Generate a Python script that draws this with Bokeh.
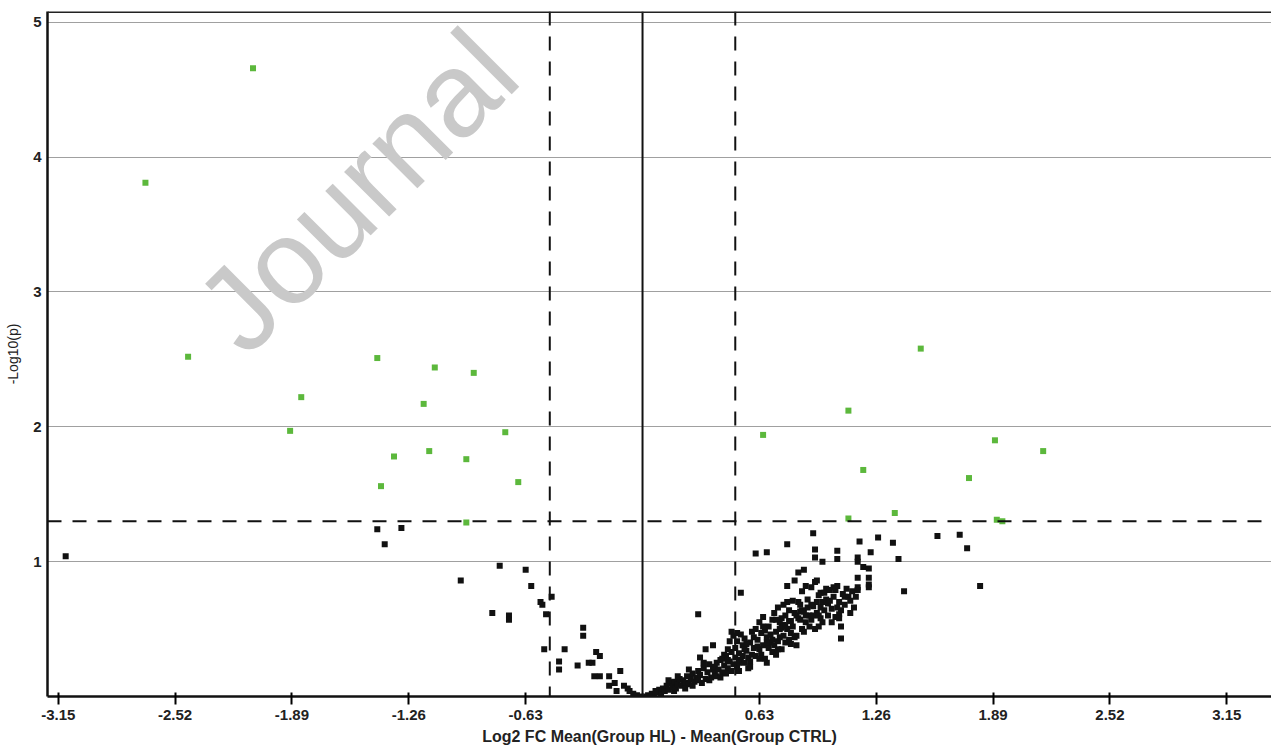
from bokeh.plotting import figure
from bokeh.models import Span, Label, FixedTicker, Range1d, PrintfTickFormatter
from bokeh.embed import file_html
from bokeh.resources import INLINE

# ---------------- data ----------------
x_ticks = [-3.15, -2.52, -1.89, -1.26, -0.63, 0.63, 1.26, 1.89, 2.52, 3.15]
y_ticks = [1, 2, 3, 4, 5]
fc_threshold = 0.5
p_threshold = 1.3

sig_left = [(-2.10, 4.66), (-2.68, 3.81), (-2.45, 2.52), (-1.84, 2.22), (-1.90, 1.97),
            (-1.43, 2.51), (-1.12, 2.44), (-0.91, 2.40), (-1.18, 2.17), (-1.34, 1.78),
            (-1.15, 1.82), (-0.95, 1.76), (-0.74, 1.96), (-0.67, 1.59), (-1.41, 1.56),
            (-0.95, 1.29)]
sig_right = [(0.65, 1.94), (1.11, 2.12), (1.50, 2.58), (1.19, 1.68), (1.11, 1.32),
             (1.36, 1.36), (1.76, 1.62), (1.90, 1.90), (2.16, 1.82), (1.91, 1.31),
             (1.94, 1.30)]

ns_left = [(-3.11, 1.04), (-1.43, 1.24), (-1.30, 1.25), (-1.39, 1.13), (-0.77, 0.97),
           (-0.63, 0.94), (-0.98, 0.86), (-0.60, 0.82), (-0.49, 0.74), (-0.55, 0.70),
           (-0.54, 0.68), (-0.52, 0.61), (-0.81, 0.62), (-0.72, 0.60), (-0.72, 0.57),
           (-0.32, 0.51), (-0.32, 0.45), (-0.53, 0.35), (-0.42, 0.35), (-0.45, 0.26),
           (-0.45, 0.20), (-0.35, 0.23), (-0.29, 0.25), (-0.27, 0.25), (-0.25, 0.33),
           (-0.23, 0.30), (-0.26, 0.15), (-0.23, 0.15), (-0.18, 0.15), (-0.12, 0.19),
           (-0.18, 0.08), (-0.15, 0.10), (-0.14, 0.04), (-0.10, 0.08), (-0.08, 0.06),
           (-0.07, 0.04), (-0.05, 0.02), (-0.03, 0.01), (-0.01, 0.0), (0.02, 0.0),
           (0.06, 0.0)]

ns_right_low = [
    (0.03, 0.01), (0.05, 0.02), (0.06, 0.0), (0.08, 0.03), (0.09, 0.05), (0.10, 0.02),
    (0.07, 0.04), (0.04, 0.0), (0.11, 0.06), (0.12, 0.04), (0.13, 0.08), (0.14, 0.05),
    (0.15, 0.10), (0.16, 0.07), (0.17, 0.11), (0.18, 0.06), (0.19, 0.09), (0.20, 0.13),
    (0.14, 0.12), (0.17, 0.04), (0.21, 0.08), (0.22, 0.12), (0.23, 0.10), (0.24, 0.15),
    (0.25, 0.09), (0.26, 0.13), (0.27, 0.17), (0.28, 0.11), (0.29, 0.14), (0.30, 0.19),
    (0.23, 0.06), (0.27, 0.08), (0.30, 0.12), (0.25, 0.20), (0.31, 0.16), (0.32, 0.10),
    (0.33, 0.21), (0.34, 0.13), (0.35, 0.18), (0.36, 0.24), (0.37, 0.14), (0.38, 0.20),
    (0.39, 0.17), (0.40, 0.25), (0.31, 0.29), (0.33, 0.25), (0.34, 0.35), (0.38, 0.38),
    (0.36, 0.12), (0.39, 0.22), (0.40, 0.15), (0.30, 0.61), (0.33, 0.24), (0.19, 0.15),
]
ns_right_mid = [
    (0.41, 0.20), (0.42, 0.27), (0.43, 0.18), (0.44, 0.23), (0.45, 0.30), (0.46, 0.21),
    (0.47, 0.26), (0.48, 0.33), (0.49, 0.24), (0.50, 0.29), (0.42, 0.14), (0.44, 0.31),
    (0.46, 0.35), (0.48, 0.19), (0.50, 0.36), (0.47, 0.41), (0.49, 0.45), (0.45, 0.17),
    (0.43, 0.28), (0.51, 0.22), (0.52, 0.32), (0.53, 0.27), (0.54, 0.38), (0.55, 0.25),
    (0.56, 0.34), (0.57, 0.29), (0.58, 0.40), (0.59, 0.31), (0.60, 0.36), (0.51, 0.41),
    (0.53, 0.46), (0.55, 0.43), (0.57, 0.21), (0.58, 0.26), (0.60, 0.44), (0.52, 0.19),
    (0.54, 0.30), (0.56, 0.39), (0.59, 0.48), (0.53, 0.77), (0.55, 0.35), (0.61, 0.30),
    (0.62, 0.42), (0.63, 0.35), (0.64, 0.47), (0.65, 0.38), (0.66, 0.28), (0.67, 0.44),
    (0.68, 0.52), (0.69, 0.40), (0.70, 0.33), (0.61, 0.50), (0.63, 0.55), (0.65, 0.59),
    (0.67, 0.25), (0.69, 0.46), (0.62, 0.37), (0.64, 0.31), (0.66, 0.49), (0.68, 0.36),
    (0.70, 0.57), (0.65, 0.52), (0.67, 0.40), (0.63, 0.28), (0.70, 0.42), (0.48, 0.48),
    (0.51, 0.47), (0.58, 0.22), (0.46, 0.27), (0.52, 0.25),
]
ns_right_high = [
    (0.71, 0.38), (0.72, 0.48), (0.73, 0.41), (0.74, 0.55), (0.75, 0.35), (0.76, 0.45),
    (0.77, 0.60), (0.78, 0.50), (0.79, 0.42), (0.80, 0.56), (0.71, 0.62), (0.73, 0.66),
    (0.75, 0.51), (0.77, 0.40), (0.79, 0.64), (0.72, 0.31), (0.74, 0.44), (0.76, 0.53),
    (0.78, 0.70), (0.80, 0.47), (0.73, 0.35), (0.77, 0.52), (0.75, 0.58), (0.78, 0.82),
    (0.80, 0.39), (0.72, 0.57), (0.76, 0.68), (0.81, 0.52), (0.82, 0.62), (0.83, 0.45),
    (0.84, 0.58), (0.85, 0.68), (0.86, 0.50), (0.87, 0.63), (0.88, 0.55), (0.89, 0.72),
    (0.90, 0.60), (0.81, 0.71), (0.82, 0.86), (0.84, 0.92), (0.86, 0.78), (0.88, 0.82),
    (0.83, 0.38), (0.85, 0.57), (0.87, 0.48), (0.89, 0.66), (0.90, 0.52), (0.82, 0.44),
    (0.86, 0.64), (0.84, 0.70), (0.88, 0.60), (0.87, 0.94), (0.91, 0.57), (0.92, 0.67),
    (0.93, 0.50), (0.94, 0.62), (0.95, 0.75), (0.96, 0.58), (0.97, 0.70), (0.98, 0.64),
    (0.99, 0.80), (1.00, 0.60), (0.91, 0.81), (0.93, 0.85), (0.94, 0.86), (0.96, 0.77),
    (0.97, 0.55), (0.99, 0.72), (0.92, 0.60), (0.95, 0.52), (0.98, 0.77), (1.00, 0.69),
    (0.94, 0.70), (0.96, 0.66), (1.01, 0.79), (1.02, 0.65), (1.03, 0.74), (1.04, 0.59),
    (1.05, 0.82), (1.06, 0.70), (1.07, 0.64), (1.08, 0.76), (1.09, 0.68), (1.10, 0.80),
    (1.01, 0.71), (1.03, 0.81), (1.04, 0.79), (1.06, 0.61), (1.06, 0.58), (1.07, 0.52),
    (1.07, 0.43), (1.09, 0.74), (1.02, 0.55), (1.05, 0.66), (1.11, 0.74), (1.12, 0.62),
    (1.12, 0.71), (1.13, 0.78), (1.14, 0.66), (1.16, 0.88), (1.16, 0.79), (1.16, 0.81),
    (1.19, 0.96), (1.22, 0.95), (1.22, 0.88), (1.22, 0.83), (1.22, 0.81), (1.15, 0.74),
    (0.79, 0.56), (0.83, 0.60), (0.85, 0.63), (0.91, 0.68), (0.95, 0.60), (0.74, 0.50),
]
ns_right_scatter = [
    (0.92, 1.21), (0.78, 1.13), (0.61, 1.06), (0.67, 1.07), (0.93, 1.09), (0.93, 1.03),
    (0.97, 1.00), (1.05, 1.08), (1.05, 1.02), (1.17, 1.15), (1.23, 1.07), (1.27, 1.18),
    (1.35, 1.14), (1.38, 1.02), (1.59, 1.19), (1.71, 1.20), (1.75, 1.10), (1.16, 1.03),
    (1.16, 1.00), (1.82, 0.82), (1.41, 0.78),
]

# ---------------- figure ----------------
FONT = "Liberation Sans"
p = figure(width=1271, height=751,
           x_range=Range1d(-3.208, 3.391), y_range=Range1d(0, 5.08),
           output_backend="svg", toolbar_location=None,
           min_border_left=47, min_border_right=0, min_border_top=11, min_border_bottom=55)
p.background_fill_color = "white"
p.border_fill_color = "white"
p.outline_line_color = None

p.xgrid.grid_line_color = None
p.ygrid.ticker = FixedTicker(ticks=y_ticks)
p.ygrid.grid_line_color = "#a0a0a0"
p.ygrid.grid_line_width = 1.2

# x axis
p.xaxis.ticker = FixedTicker(ticks=x_ticks)
p.xaxis.formatter = PrintfTickFormatter(format="%.2f")
p.xaxis.axis_label = "Log2 FC Mean(Group HL) - Mean(Group CTRL)"
p.xaxis.axis_label_text_font = FONT
p.xaxis.axis_label_text_font_style = "bold"
p.xaxis.axis_label_text_font_size = "16px"
p.xaxis.axis_label_text_color = "#222222"
p.xaxis.axis_label_standoff = 5
p.xaxis.major_label_text_font = FONT
p.xaxis.major_label_text_font_style = "bold"
p.xaxis.major_label_text_font_size = "15px"
p.xaxis.major_label_text_color = "#222222"
p.xaxis.major_label_standoff = 5
p.xaxis.major_tick_in = 4
p.xaxis.major_tick_out = 8
p.xaxis.major_tick_line_width = 2
p.xaxis.minor_tick_line_color = None
p.xaxis.axis_line_width = 2.5
p.xaxis.axis_line_color = "#111111"

# y axis
p.yaxis.ticker = FixedTicker(ticks=y_ticks)
p.yaxis.axis_label = "-Log10(p)"
p.yaxis.axis_label_text_font = FONT
p.yaxis.axis_label_text_font_style = "normal"
p.yaxis.axis_label_text_font_size = "14px"
p.yaxis.axis_label_text_color = "#222222"
p.yaxis.axis_label_standoff = 9
p.yaxis.major_label_text_font = FONT
p.yaxis.major_label_text_font_style = "bold"
p.yaxis.major_label_text_font_size = "15px"
p.yaxis.major_label_text_color = "#222222"
p.yaxis.major_label_standoff = 6
p.yaxis.major_tick_in = 0
p.yaxis.major_tick_out = 0
p.yaxis.minor_tick_line_color = None
p.yaxis.axis_line_width = 2.5
p.yaxis.axis_line_color = "#111111"

# watermark
p.add_layout(Label(x=-2.04, y=2.37, text="Journal", angle=0.785,
                   text_font=FONT, text_font_size="120px", text_color="#c9c9c9",
                   level="underlay"))

# reference lines
p.add_layout(Span(location=0, dimension="height", line_color="#111111", line_width=2))
for loc in (-fc_threshold, fc_threshold):
    p.add_layout(Span(location=loc, dimension="height", line_color="#111111",
                      line_width=2, line_dash="14 11"))
p.add_layout(Span(location=p_threshold, dimension="width", line_color="#111111",
                  line_width=2, line_dash="14 11"))
p.add_layout(Span(location=5.08, dimension="width", line_color="#222222", line_width=3))

ns = ns_left + ns_right_low + ns_right_mid + ns_right_high + ns_right_scatter
p.scatter([a for a, b in ns], [b for a, b in ns], marker="square", size=6,
          fill_color="#111111", line_color=None)
sig = sig_left + sig_right
p.scatter([a for a, b in sig], [b for a, b in sig], marker="square", size=6,
          fill_color="#5cb83c", line_color=None)

open("out.html", "w").write(file_html(p, INLINE))
